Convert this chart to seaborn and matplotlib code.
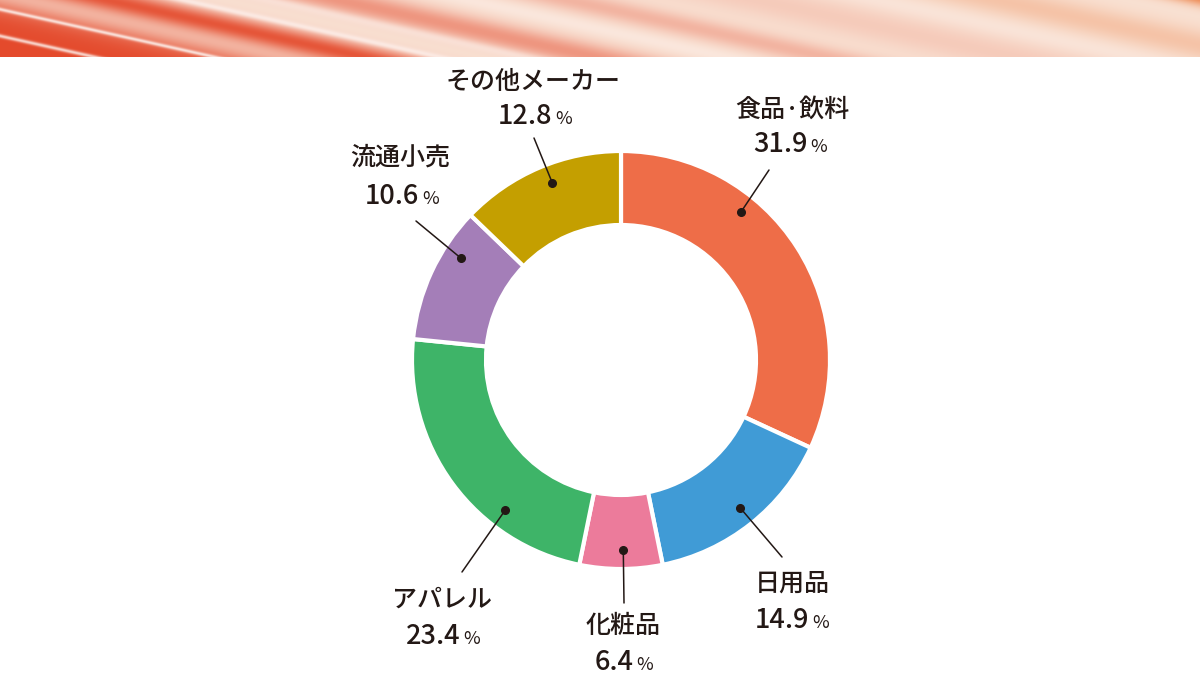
import numpy as np
import seaborn as sns
import matplotlib.pyplot as plt
from matplotlib.offsetbox import TextArea, HPacker, AnnotationBbox

# data
categories = ['食品·飲料', '日用品', '化粧品', 'アパレル', '流通小売', 'その他メーカー']
shares = [31.9, 14.9, 6.4, 23.4, 10.6, 12.8]
colors = ['#EE6D48', '#409BD6', '#EC7B9B', '#3EB468', '#A47EB8', '#C49F00']

# label layout in pixels (top-down): name centre, percent centre, leader end
name_xy = [(792, 110), (792, 584), (623, 626), (442, 600), (400, 158), (533, 82)]
pct_xy = [(790, 145), (792, 620), (624, 662), (443, 637), (402, 197), (535, 117)]
line_end = [(769, 170), (782, 557), (624, 603), (462, 572), (416, 221), (534, 138)]
dot_frac = [0.66, 0.51, 0.53, 0.69, 0.30, 0.46]

W, H = 1200, 675
CX, CY, R = 621, 360, 209

sns.set_theme(style='white')
plt.rcParams['font.family'] = ['Noto Sans CJK JP', 'DejaVu Sans']
ink = '#231815'

fig = plt.figure(figsize=(12, 6.75), dpi=100)
ax = fig.add_axes([0, 0, 1, 1])

# header banner with diagonal streaks
bh = 57
yy, xx = np.mgrid[0:bh, 0:W]
t = xx - 4.5 * yy
pale = np.array([249, 226, 212]) / 255
red = np.array([228, 74, 44]) / 255
white = np.array([253, 240, 235]) / 255
orange = np.array([236, 125, 65]) / 255


def band(c, w):
    return np.exp(-((t - c) / w) ** 2)


a_red = np.clip(1 / (1 + np.exp((t + 10) / 30)) + 0.9 * band(110, 55) + 0.5 * band(340, 60)
                + 0.3 * band(570, 50) + 0.15 * band(760, 80), 0, 1)
a_white = np.clip(0.85 * band(-40, 9) + 0.8 * band(-160, 9) + 0.8 * band(185, 14)
                  + 0.5 * band(270, 20) + 0.4 * band(470, 30) + 0.3 * band(880, 40), 0, 1)
a_orange = np.clip(0.9 * band(1215, 40) + 0.3 * band(1000, 70), 0, 1)
img = pale[None, None, :] * np.ones((bh, W, 1))
img = img * (1 - a_red[..., None]) + red * a_red[..., None]
img = img * (1 - a_orange[..., None]) + orange * a_orange[..., None]
img = img * (1 - a_white[..., None]) + white * a_white[..., None]
ax.imshow(img, extent=[0, W, H - bh, H], aspect='auto', zorder=0)

# donut
wedges, _ = ax.pie(shares, colors=colors, startangle=90, counterclock=False,
                   radius=R, center=(CX, H - CY),
                   wedgeprops=dict(width=74, edgecolor='white', linewidth=3))

for w, name, nxy, pxy, le, fr, val in zip(wedges, categories, name_xy, pct_xy,
                                         line_end, dot_frac, shares):
    th = np.deg2rad(w.theta1 + fr * (w.theta2 - w.theta1))
    dx = CX + 190 * np.cos(th)
    dy = (H - CY) + 190 * np.sin(th)
    ax.plot([dx, le[0]], [dy, H - le[1]], color=ink, lw=1.1, zorder=5)
    ax.plot(dx, dy, 'o', color=ink, ms=5.5, zorder=6)
    ax.text(nxy[0], H - nxy[1], name, ha='center', va='center',
            fontsize=18, fontweight='medium', color=ink)
    num = TextArea(f'{val:.1f}', textprops=dict(fontsize=19.5, fontweight='medium', color=ink))
    pc = TextArea('%', textprops=dict(fontsize=13, color=ink))
    box = HPacker(children=[num, pc], align='baseline', pad=0, sep=2)
    ab = AnnotationBbox(box, (pxy[0], H - pxy[1]), frameon=False,
                        box_alignment=(0.5, 0.5), pad=0)
    ax.add_artist(ab)

ax.set_xlim(0, W)
ax.set_ylim(0, H)
ax.axis('off')

fig.savefig('out.png', dpi=100)
